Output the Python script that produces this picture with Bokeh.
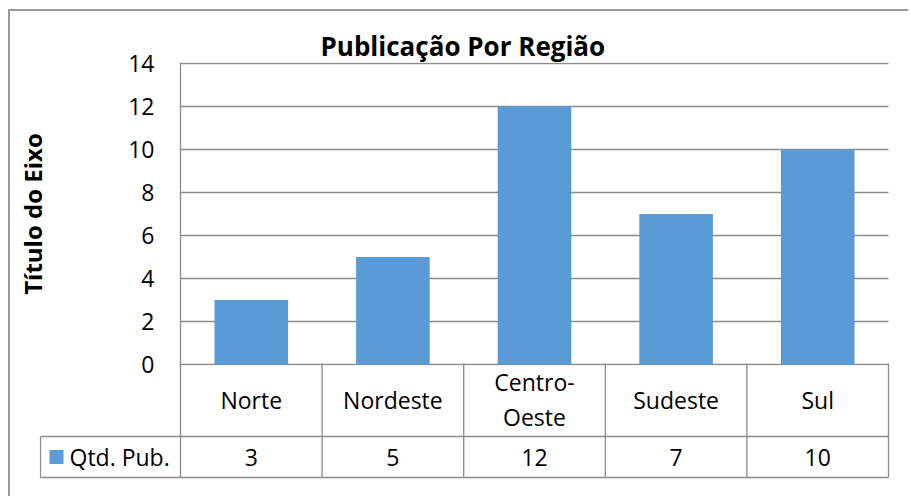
from bokeh.plotting import figure
from bokeh.models import Range1d, FixedTicker, Title
from bokeh.embed import file_html
from bokeh.resources import INLINE
from bokeh.core.properties import value

# ---- data ----
categories = ["Norte", "Nordeste", "Centro-Oeste", "Sudeste", "Sul"]
category_labels = ["Norte", "Nordeste", "Centro-\nOeste", "Sudeste", "Sul"]
values = [3, 5, 12, 7, 10]
series_name = "Qtd. Pub."
y_ticks = [0, 2, 4, 6, 8, 10, 12, 14]
title_text = "Publicação Por Região"
y_axis_title = "Título do Eixo"

# ---- style / layout constants ----
FONT = "Open Sans"
GRID = "#8c8c8c"
FRAME = "#9a9a9a"
BAR = "#5B9BD5"
TXT = "#000000"
LABEL_SIZE = "23px"
PXV = 21.5                 # vertical pixels per value unit
PXH = 141.6                # horizontal pixels per category
TABLE_BOTTOM = -115 / PXV  # bottom line of the data table
ROW_SPLIT = -74 / PXV      # line between category row and value row
LEGEND_LEFT = -140 / PXH   # left edge of the legend key cell
OVERLAP = 24               # px the table canvas overlaps the chart canvas
n = len(categories)
y_max = y_ticks[-1]
centers = [i + 0.5 for i in range(n)]
x_end = n + 2 / PXH

# ---------------- chart area ----------------
top = figure(width=900, height=354 + OVERLAP,
             x_range=Range1d(0, x_end),
             y_range=Range1d(-1 / PXV, y_max + 1 / PXV),
             output_backend="svg", toolbar_location=None,
             min_border_left=170, min_border_right=20,
             min_border_top=51, min_border_bottom=OVERLAP,
             styles={"margin-left": "8px", "margin-top": "9px",
                     "border-left": f"2px solid {FRAME}",
                     "border-top": f"2px solid {FRAME}"})
top.outline_line_color = None
top.xaxis.visible = False
top.grid.visible = False

top.segment(x0=[0] * len(y_ticks), y0=y_ticks, x1=[n] * len(y_ticks), y1=y_ticks,
            line_color=GRID, line_width=1.3)
top.vbar(x=centers, top=values, width=0.52, fill_color=BAR, line_color=None)

yax = top.yaxis[0]
yax.ticker = FixedTicker(ticks=y_ticks)
yax.axis_line_color = GRID
yax.axis_line_width = 1.3
yax.major_tick_in = 0
yax.major_tick_out = 0
yax.minor_tick_line_color = None
yax.major_label_standoff = 26
yax.major_label_text_font = FONT
yax.major_label_text_font_size = LABEL_SIZE
yax.major_label_text_color = TXT
yax.axis_label = y_axis_title
yax.axis_label_text_font = FONT
yax.axis_label_text_font_size = "24px"
yax.axis_label_text_font_style = "bold"
yax.axis_label_text_color = TXT
yax.axis_label_standoff = 76

top.title = Title(text=title_text, align="left", offset=140, standoff=-2,
                  text_font=FONT, text_font_size="26px", text_font_style="bold",
                  text_color=TXT)

# ---------------- data table ----------------
bot = figure(width=900, height=133,
             x_range=Range1d(-141 / PXH, x_end),
             y_range=Range1d(-117 / PXV, -1 / PXV),
             output_backend="svg", toolbar_location=None,
             min_border_left=29, min_border_right=20,
             min_border_top=0, min_border_bottom=17,
             styles={"margin-left": "8px", "margin-top": f"-{OVERLAP}px",
                     "border-left": f"2px solid {FRAME}"})
bot.outline_line_color = None
bot.background_fill_alpha = 0
bot.border_fill_alpha = 0
bot.axis.visible = False
bot.grid.visible = False

xs = list(range(n + 1))
bot.segment(x0=xs, y0=[TABLE_BOTTOM] * len(xs), x1=xs, y1=[0] * len(xs),
            line_color=GRID, line_width=1.3)
bot.segment(x0=[LEGEND_LEFT, LEGEND_LEFT, LEGEND_LEFT],
            y0=[TABLE_BOTTOM, ROW_SPLIT, TABLE_BOTTOM],
            x1=[n, n, LEGEND_LEFT],
            y1=[TABLE_BOTTOM, ROW_SPLIT, ROW_SPLIT],
            line_color=GRID, line_width=1.3)

bot.text(x=centers, y=[ROW_SPLIT / 2] * n, text=category_labels,
         text_align="center", text_baseline="middle",
         text_font=value(FONT), text_font_size=LABEL_SIZE, text_color=TXT,
         text_line_height=1.1)
row_mid = (ROW_SPLIT + TABLE_BOTTOM) / 2
bot.text(x=centers, y=[row_mid] * n, text=[str(v) for v in values],
         text_align="center", text_baseline="middle",
         text_font=value(FONT), text_font_size=LABEL_SIZE, text_color=TXT)

# legend key cell
bot.rect(x=[LEGEND_LEFT + 16 / PXH], y=[row_mid], width=14, height=14,
         width_units="screen", height_units="screen",
         fill_color=BAR, line_color=None)
bot.text(x=[LEGEND_LEFT], y=[row_mid], text=[series_name], x_offset=29,
         text_align="left", text_baseline="middle",
         text_font=value(FONT), text_font_size=LABEL_SIZE, text_color=TXT)

open("out.html", "w").write(file_html([top, bot], INLINE))
